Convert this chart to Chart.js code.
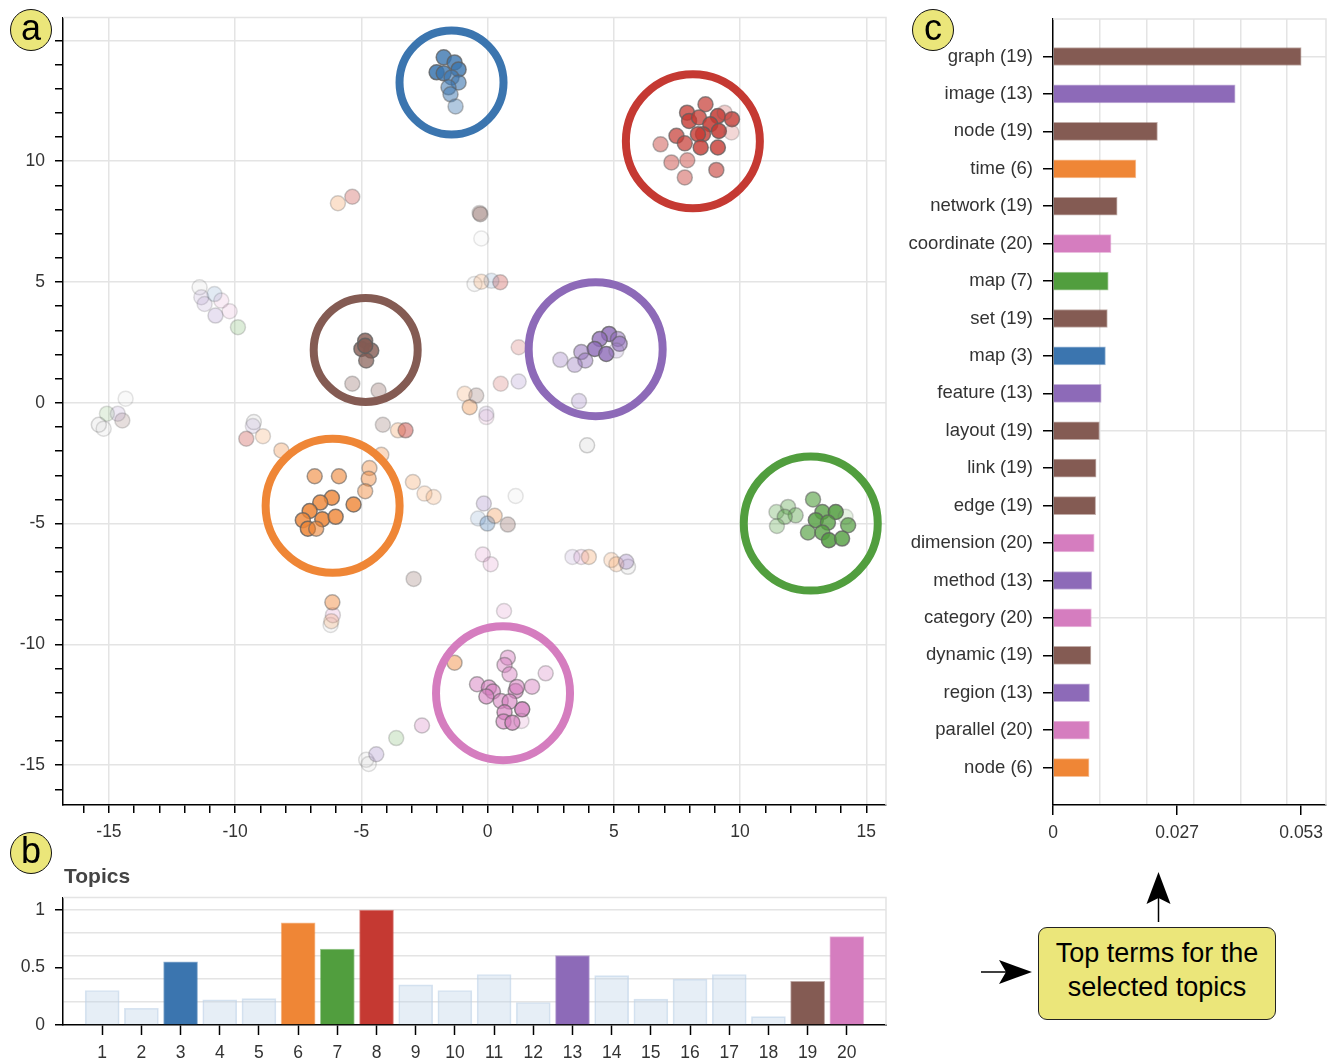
<!DOCTYPE html>
<html>
<head>
<meta charset="utf-8">
<title>Topic projection, topic weights and top terms</title>
<script src="https://cdn.jsdelivr.net/npm/chart.js@4.4.1/dist/chart.umd.min.js"></script>
<style>
  body { margin: 0; background: #fff; font-family: 'Liberation Sans', Arial, sans-serif; }
  #page { position: relative; width: 1333px; height: 1061px; overflow: hidden; background: #fff; }
  .wrap { position: absolute; }
  .badge {
    position: absolute; width: 40px; height: 40px; border: 1.5px solid #111; border-radius: 50%;
    background: #ebe67a; color: #000; font-size: 36px; line-height: 36px; text-align: center;
  }
  #topicsTitle { position: absolute; left: 64px; top: 864px; font-size: 21px; font-weight: bold; color: #444; }
  #callout {
    position: absolute; left: 1038px; top: 927px; width: 236px; height: 83px;
    border: 1.5px solid #222; border-radius: 9px; background: #ebe67a;
    font-size: 27px; line-height: 34px; text-align: center; color: #000; padding-top: 8px; box-sizing: content-box;
  }
  #arrows { position: absolute; left: 0; top: 0; pointer-events: none; }
</style>
</head>
<body>
<div id="page">
  <div class="wrap" style="left:0;top:-3px;width:890px;height:853px;"><canvas id="scatterChart"></canvas></div>
  <div class="wrap" style="left:0;top:877px;width:894px;height:184px;"><canvas id="topicChart"></canvas></div>
  <div class="wrap" style="left:890px;top:-2px;width:443px;height:852px;"><canvas id="termChart"></canvas></div>

  <div class="badge" style="left:10px;top:9px;">a</div>
  <div class="badge" style="left:10px;top:832px;">b</div>
  <div class="badge" style="left:912px;top:9px;">c</div>
  <div id="topicsTitle">Topics</div>
  <div id="callout">Top terms for the<br>selected topics</div>
  <svg id="arrows" width="1333" height="1061">
    <line x1="1158.5" y1="922" x2="1158.5" y2="898" stroke="#000" stroke-width="1.5"/>
    <polygon points="1158.5,872 1146.5,904 1158.5,898 1170.5,904" fill="#000"/>
    <line x1="981" y1="972" x2="1006" y2="972" stroke="#000" stroke-width="1.5"/>
    <polygon points="1032,972 999,960 1006,972 999,984" fill="#000"/>
  </svg>
</div>

<script>
// colours of the selected topics
const topicColors = {
    3: '#3b75af', 6: '#ef8636', 7: '#519e3e', 8: '#c53932',
    13: '#8d6ab8', 19: '#845b53', 20: '#d57dbf'
};
const unselectedColor = '#c8c8c8';

// (a) projected documents: [x, y, topic weight]
const topic3Points = [
    [-1.74, 14.30, 0.8], [-1.31, 14.09, 0.8], [-1.15, 13.80, 0.8], [-2.02, 13.68, 0.85], [-1.74, 13.64, 0.8],
    [-1.43, 13.47, 0.6], [-1.15, 13.26, 0.6], [-1.55, 13.06, 0.55], [-1.47, 12.77, 0.5], [-1.27, 12.27, 0.4],
    [-10.82, 4.50, 0.15], [0.15, 5.05, 0.15], [-0.38, -4.79, 0.15], [-0.01, -5.00, 0.3]
];
const topic8Points = [
    [8.63, 12.36, 0.7], [7.90, 12.01, 0.75], [7.98, 11.67, 0.8], [8.37, 11.81, 0.75], [9.12, 11.87, 0.85],
    [9.68, 11.74, 0.8], [9.39, 12.01, 0.25], [8.82, 11.53, 0.85], [9.16, 11.25, 0.85], [8.53, 11.12, 0.8],
    [8.33, 11.12, 0.8], [7.48, 11.05, 0.7], [7.81, 10.74, 0.7], [8.44, 10.57, 0.8], [9.12, 10.57, 0.8],
    [6.85, 10.70, 0.45], [7.28, 9.95, 0.45], [7.91, 10.04, 0.45], [7.81, 9.33, 0.45], [9.06, 9.64, 0.6],
    [9.66, 11.19, 0.2],
    [-5.36, 8.53, 0.3], [1.23, 2.30, 0.2], [0.52, 0.79, 0.2], [0.50, 4.99, 0.3], [-3.25, -1.14, 0.45], [-9.56, -1.49, 0.3]
];
const topic13Points = [
    [4.81, 2.85, 0.8], [4.44, 2.64, 0.75], [5.16, 2.64, 0.5], [5.23, 2.44, 0.6], [4.24, 2.23, 0.8],
    [4.70, 2.02, 0.8], [5.10, 2.16, 0.2], [3.71, 2.10, 0.5], [3.87, 1.75, 0.45], [3.45, 1.57, 0.35], [2.88, 1.78, 0.3],
    [3.62, 0.07, 0.25], [1.23, 0.88, 0.2], [-11.34, 4.37, 0.15], [-11.21, 4.09, 0.15], [-10.78, 3.61, 0.2],
    [-9.30, -0.96, 0.15], [-14.65, -0.45, 0.15], [-0.15, -4.17, 0.25], [3.36, -6.38, 0.15], [5.49, -6.58, 0.3],
    [-4.41, -14.55, 0.25], [-0.05, -0.45, 0.15]
];
const topic19Points = [
    [-4.85, 2.57, 0.8], [-5.00, 2.23, 0.8], [-4.61, 2.16, 0.8], [-4.81, 1.75, 0.7], [-4.85, 2.36, 0.9],
    [-5.36, 0.79, 0.3], [-4.32, 0.51, 0.3], [-0.29, 7.81, 0.35], [-0.32, 7.86, 0.2], [-0.45, 0.30, 0.25],
    [-4.15, -0.91, 0.25], [-2.93, -7.29, 0.25], [0.80, -5.04, 0.3], [-14.47, -0.73, 0.2]
];
const topic6Points = [
    [-6.85, -3.04, 0.6], [-5.89, -3.04, 0.6], [-4.68, -2.70, 0.4], [-4.71, -3.14, 0.45], [-4.85, -3.66, 0.45],
    [-6.17, -3.93, 0.8], [-6.63, -4.13, 0.8], [-5.31, -4.21, 0.8], [-7.05, -4.48, 0.85], [-7.32, -4.86, 0.8],
    [-6.55, -4.82, 0.85], [-6.02, -4.72, 0.8], [-7.12, -5.21, 0.85], [-6.79, -5.21, 0.6],
    [-4.21, -2.15, 0.3], [-3.55, -1.14, 0.25], [-2.96, -3.28, 0.25], [-2.50, -3.76, 0.2], [-2.14, -3.90, 0.2],
    [-6.15, -8.26, 0.45], [-6.19, -9.04, 0.2], [-8.17, -1.97, 0.3], [-8.90, -1.38, 0.2], [-5.93, 8.26, 0.25],
    [-0.25, 5.01, 0.2], [-0.91, 0.37, 0.2], [-0.71, -0.18, 0.35], [0.28, -4.68, 0.3], [4.01, -6.38, 0.25],
    [4.90, -6.51, 0.2], [5.10, -6.68, 0.2], [-1.31, -10.76, 0.45]
];
const topic7Points = [
    [12.89, -4.00, 0.6], [11.90, -4.31, 0.35], [11.44, -4.52, 0.3], [12.20, -4.66, 0.4], [11.77, -4.72, 0.4],
    [11.46, -5.10, 0.3], [13.26, -4.52, 0.75], [13.79, -4.52, 0.85], [13.00, -4.86, 0.8], [13.48, -4.96, 0.75],
    [14.28, -5.07, 0.7], [12.69, -5.37, 0.65], [13.26, -5.37, 0.75], [13.52, -5.69, 0.85], [14.04, -5.62, 0.8],
    [14.18, -4.72, 0.15],
    [-9.89, 3.13, 0.2], [-15.08, -0.45, 0.15], [-3.62, -13.88, 0.2]
];
const topic20Points = [
    [0.80, -10.55, 0.45], [0.67, -10.85, 0.45], [0.87, -11.24, 0.45], [2.30, -11.20, 0.3], [-0.42, -11.65, 0.5],
    [0.05, -11.79, 0.6], [0.21, -11.95, 0.6], [-0.05, -12.16, 0.6], [0.52, -12.34, 0.55], [1.11, -11.93, 0.6],
    [1.16, -11.76, 0.55], [1.76, -11.75, 0.45], [1.37, -12.69, 0.8], [0.87, -12.37, 0.6], [0.67, -12.81, 0.65],
    [0.63, -13.19, 0.6], [0.98, -13.24, 0.7], [1.34, -13.17, 0.2],
    [-10.55, 4.23, 0.15], [-10.22, 3.79, 0.15], [-0.19, -6.28, 0.2], [0.12, -6.68, 0.2], [3.71, -6.38, 0.2],
    [0.65, -8.62, 0.2], [-2.60, -13.36, 0.3], [-6.13, -8.79, 0.2], [-0.05, -0.59, 0.15]
];
const otherPoints = [
    [-11.41, 4.78, 0.15], [-0.25, 6.80, 0.08], [-0.52, 4.92, 0.15], [3.94, -1.76, 0.25], [1.11, -3.86, 0.1],
    [5.56, -6.79, 0.2], [-6.22, -9.20, 0.15], [-9.26, -0.80, 0.2], [-15.40, -0.91, 0.2], [-15.21, -1.07, 0.15],
    [-14.34, 0.17, 0.1], [-4.81, -14.78, 0.15], [-4.71, -14.95, 0.15]
];

// rings around the selected topic clusters
const ringTopics = [3, 8, 19, 13, 6, 7, 20];
const ringX = [-1.43, 8.13, -4.83, 4.28, -6.14, 12.80, 0.61];
const ringY = [13.26, 10.83, 2.19, 2.22, -4.26, -5.00, -12.02];

// (b) topic weights
const topicIds = [1, 2, 3, 4, 5, 6, 7, 8, 9, 10, 11, 12, 13, 14, 15, 16, 17, 18, 19, 20];
const topicWeights = [0.30, 0.146, 0.55, 0.22, 0.23, 0.89, 0.66, 1.0, 0.35, 0.30,
                      0.44, 0.196, 0.605, 0.43, 0.225, 0.40, 0.44, 0.073, 0.38, 0.77];

// (c) top terms
const termWords = ['graph', 'image', 'node', 'time', 'network', 'coordinate', 'map', 'set', 'map', 'feature',
                   'layout', 'link', 'edge', 'dimension', 'method', 'category', 'dynamic', 'region', 'parallel', 'node'];
const termTopics = [19, 13, 19, 6, 19, 20, 7, 19, 3, 13, 19, 19, 19, 20, 13, 20, 19, 13, 20, 6];
const termWeights = [0.0530, 0.0389, 0.0223, 0.0177, 0.0137, 0.0124, 0.0118, 0.0116, 0.0112, 0.0103,
                     0.0099, 0.0092, 0.0091, 0.0088, 0.0083, 0.0082, 0.0081, 0.0078, 0.0078, 0.0077];
const termTickValues = [0, 0.0265, 0.053];
const termTickLabels = ['0', '0.027', '0.053'];
const termGridValues = [0.01, 0.02, 0.03, 0.04, 0.05];

const FONT = "'Liberation Sans', Arial, sans-serif";
const TICK_FONT = { family: FONT, size: 17.5 };
const LABEL_COLOR = '#333';
const GRID_COLOR = '#e4e4e4';
const NONE = 'rgba(0,0,0,0)';

function withAlpha(hex, a) {
    const n = parseInt(hex.slice(1), 16);
    return `rgba(${(n >> 16) & 255},${(n >> 8) & 255},${n & 255},${a})`;
}

// light frame on the top and right of each plot area
const framePlugin = {
    id: 'frame',
    beforeDatasetsDraw(chart) {
        const {ctx, chartArea: a} = chart;
        ctx.save();
        ctx.strokeStyle = GRID_COLOR;
        ctx.lineWidth = 1.5;
        ctx.beginPath();
        ctx.moveTo(a.left, a.top);
        ctx.lineTo(a.right, a.top);
        ctx.lineTo(a.right, a.bottom);
        ctx.stroke();
        ctx.restore();
    }
};

function pointsDataset(points, color, order) {
    return {
        data: points.map(p => ({x: p[0], y: p[1]})),
        pointRadius: 7.5,
        pointBorderWidth: 1.5,
        pointBackgroundColor: points.map(p => withAlpha(color, p[2])),
        pointBorderColor: points.map(p => `rgba(95,95,95,${Math.min(0.9, p[2] * 0.85 + 0.08)})`),
        order: order
    };
}

// ---- (a) scatter ----
const ringDataset = {
    data: ringX.map((x, i) => ({x: x, y: ringY[i]})),
    pointRadius: [52, 67, 52, 67, 67, 67, 67],
    pointBorderWidth: 8,
    pointBackgroundColor: NONE,
    pointBorderColor: ringTopics.map(t => topicColors[t]),
    clip: false,
    order: 0
};

new Chart(document.getElementById('scatterChart'), {
    type: 'scatter',
    data: {
        datasets: [
            ringDataset,
            pointsDataset(topic3Points, topicColors[3], 1),
            pointsDataset(topic8Points, topicColors[8], 1),
            pointsDataset(topic13Points, topicColors[13], 1),
            pointsDataset(topic19Points, topicColors[19], 1),
            pointsDataset(topic6Points, topicColors[6], 1),
            pointsDataset(topic7Points, topicColors[7], 1),
            pointsDataset(topic20Points, topicColors[20], 1),
            pointsDataset(otherPoints, unselectedColor, 2)
        ]
    },
    options: {
        responsive: true,
        maintainAspectRatio: false,
        animation: false,
        layout: { autoPadding: false, padding: { top: 0, right: 4, left: 0, bottom: 0 } },
        plugins: { legend: { display: false }, tooltip: { enabled: false } },
        scales: {
            x: {
                type: 'linear',
                min: -16.82,
                max: 15.78,
                ticks: {
                    stepSize: 1, includeBounds: false, autoSkip: false, maxRotation: 0, padding: 9,
                    color: LABEL_COLOR, font: TICK_FONT,
                    callback: v => (v % 5 === 0 ? String(v) : '')
                },
                grid: {
                    color: ctx => (ctx.tick && ctx.tick.value % 5 === 0 ? GRID_COLOR : NONE),
                    lineWidth: 1.5, tickColor: '#000', tickWidth: 1.5, tickLength: 8
                },
                border: { color: '#000', width: 1.5 },
                afterFit: scale => { scale.height = 45; }
            },
            y: {
                type: 'linear',
                min: -16.65,
                max: 15.95,
                ticks: {
                    stepSize: 1, includeBounds: false, autoSkip: false, padding: 10,
                    color: LABEL_COLOR, font: TICK_FONT,
                    callback: v => (v % 5 === 0 ? String(v) : '')
                },
                grid: {
                    color: ctx => (ctx.tick && ctx.tick.value % 5 === 0 ? GRID_COLOR : NONE),
                    lineWidth: 1.5, tickColor: '#000', tickWidth: 1.5, tickLength: 8
                },
                border: { color: '#000', width: 1.5 },
                afterFit: scale => { scale.width = 63; }
            }
        }
    },
    plugins: [framePlugin]
});

// ---- (b) topic bars ----
new Chart(document.getElementById('topicChart'), {
    type: 'bar',
    data: {
        datasets: [{
            data: topicIds.map((t, i) => ({x: t, y: topicWeights[i]})),
            backgroundColor: topicIds.map(t => topicColors[t] || 'rgba(190,210,232,0.38)'),
            borderColor: topicIds.map(t => topicColors[t] ? withAlpha(topicColors[t], 0.55) : 'rgba(190,210,232,0.6)'),
            borderWidth: 1,
            barThickness: 34
        }]
    },
    options: {
        responsive: true,
        maintainAspectRatio: false,
        animation: false,
        layout: { autoPadding: false, padding: { top: 0, right: 0, left: 0, bottom: 0 } },
        plugins: { legend: { display: false }, tooltip: { enabled: false } },
        scales: {
            x: {
                type: 'linear',
                min: 0,
                max: 21,
                offset: false,
                ticks: {
                    stepSize: 1, autoSkip: false, maxRotation: 0, padding: 8,
                    color: LABEL_COLOR, font: TICK_FONT,
                    callback: v => (v >= 1 && v <= 20 ? String(v) : '')
                },
                grid: {
                    offset: false,
                    drawOnChartArea: false,
                    tickColor: ctx => (ctx.tick && ctx.tick.value >= 1 && ctx.tick.value <= 20 ? '#000' : NONE),
                    tickWidth: 1.5, tickLength: 10
                },
                border: { color: '#000', width: 1.5 },
                afterFit: scale => { scale.height = 36; }
            },
            y: {
                type: 'linear',
                min: 0,
                max: 1.11,
                ticks: {
                    stepSize: 0.1, includeBounds: false, autoSkip: false, padding: 10,
                    color: LABEL_COLOR, font: TICK_FONT,
                    callback: v => {
                        const r = Math.round(v * 10);
                        return r === 0 ? '0' : r === 5 ? '0.5' : r === 10 ? '1' : '';
                    }
                },
                grid: {
                    color: ctx => {
                        const r = ctx.tick ? Math.round(ctx.tick.value * 10) : 0;
                        return r > 0 && r % 2 === 0 ? GRID_COLOR : NONE;
                    },
                    lineWidth: 1.5,
                    tickColor: ctx => ([0, 5, 10].includes(ctx.tick ? Math.round(ctx.tick.value * 10) : -1) ? '#000' : NONE),
                    tickWidth: 1.5, tickLength: 8
                },
                border: { color: '#000', width: 1.5 },
                afterFit: scale => { scale.width = 63; }
            }
        }
    },
    plugins: [framePlugin]
});

// ---- (c) top terms ----
const termLabels = termWords.map((w, i) => `${w} (${termTopics[i]})`);
const termAxisTicks = termTickValues.concat(termGridValues).sort((a, b) => a - b);

new Chart(document.getElementById('termChart'), {
    type: 'bar',
    data: {
        datasets: [{
            data: termWeights.map((w, i) => ({x: w, y: i})),
            backgroundColor: termTopics.map(t => topicColors[t]),
            borderColor: termTopics.map(t => withAlpha(topicColors[t], 0.5)),
            borderWidth: 1,
            barThickness: 18
        }]
    },
    options: {
        indexAxis: 'y',
        responsive: true,
        maintainAspectRatio: false,
        animation: false,
        layout: { autoPadding: false, padding: { top: 0, right: 7, left: 0, bottom: 0 } },
        plugins: { legend: { display: false }, tooltip: { enabled: false } },
        scales: {
            x: {
                type: 'linear',
                min: 0,
                max: 0.0583,
                afterBuildTicks: scale => { scale.ticks = termAxisTicks.map(v => ({value: v})); },
                ticks: {
                    autoSkip: false, maxRotation: 0, padding: 8,
                    color: LABEL_COLOR, font: TICK_FONT,
                    callback: v => {
                        const i = termTickValues.indexOf(v);
                        return i >= 0 ? termTickLabels[i] : '';
                    }
                },
                grid: {
                    color: ctx => (ctx.tick && termGridValues.includes(ctx.tick.value) ? GRID_COLOR : NONE),
                    lineWidth: 1.5,
                    tickColor: ctx => (ctx.tick && termTickValues.includes(ctx.tick.value) ? '#000' : NONE),
                    tickWidth: 1.5, tickLength: 10
                },
                border: { color: '#000', width: 1.5 },
                afterFit: scale => { scale.height = 45; }
            },
            y: {
                type: 'linear',
                reverse: true,
                min: -1,
                max: 20,
                offset: false,
                ticks: {
                    stepSize: 1, autoSkip: false, padding: 10,
                    color: LABEL_COLOR, font: { family: FONT, size: 18.5 },
                    callback: v => (Number.isInteger(v) && v >= 0 && v < termLabels.length ? termLabels[v] : '')
                },
                grid: {
                    offset: false,
                    color: ctx => (ctx.tick && ctx.tick.value >= 0 && ctx.tick.value % 5 === 0 && ctx.tick.value < 20 ? GRID_COLOR : NONE),
                    lineWidth: 1.5,
                    tickColor: ctx => (ctx.tick && ctx.tick.value >= 0 && ctx.tick.value < 20 ? '#000' : NONE),
                    tickWidth: 1.5, tickLength: 10
                },
                border: { color: '#000', width: 1.5 },
                afterFit: scale => { scale.width = 163; }
            }
        }
    },
    plugins: [framePlugin]
});
</script>
</body>
</html>
